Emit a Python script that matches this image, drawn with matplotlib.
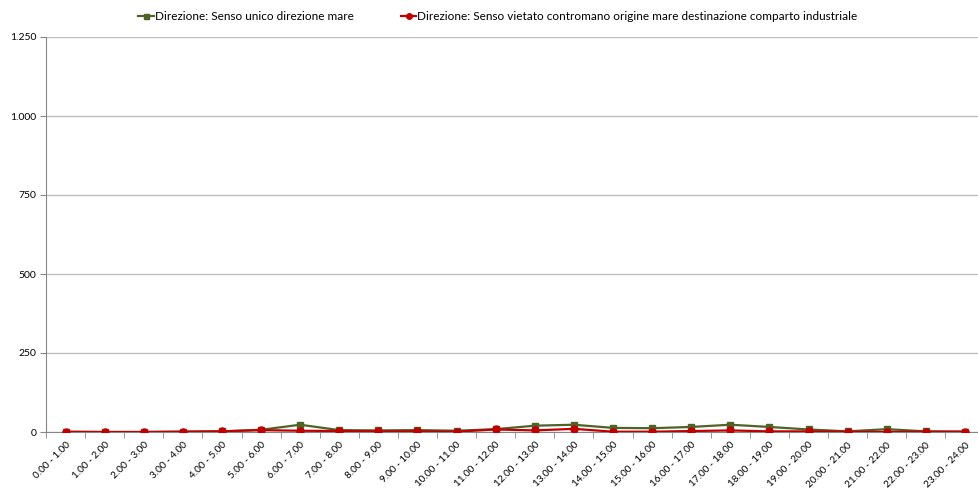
import matplotlib
matplotlib.use('Agg')
import matplotlib.pyplot as plt
from matplotlib.ticker import FuncFormatter, FixedLocator

plt.rcParams['font.family'] = ['Lato', 'DejaVu Sans']

# data
fasce = ['%d.00 - %d.00' % (h, h + 1) for h in range(24)]
senso_unico = [0, 0, 0, 1, 2, 7, 23, 6, 5, 6, 4, 9, 20, 23, 13, 12, 16, 23, 16, 8, 2, 9, 2, 1]
senso_vietato = [1, 0, 0, 1, 2, 6, 4, 3, 2, 2, 1, 8, 5, 10, 1, 1, 3, 5, 2, 2, 1, 0, 1, 1]
serie_labels = ['Direzione: Senso unico direzione mare',
                'Direzione: Senso vietato contromano origine mare destinazione comparto industriale']
y_ticks = [0, 250, 500, 750, 1000, 1250]

W, H = 979, 491
fig = plt.figure(figsize=(W / 100, H / 100), dpi=100)
ax = fig.add_axes([46 / W, 1 - 432 / H, (984.5 - 46) / W, (432 - 37) / H])

x = range(len(fasce))
ax.plot(x, senso_unico, color='#4F6228', lw=1.6, marker='s', ms=4.5,
        label=serie_labels[0], zorder=3)
ax.plot(x, senso_vietato, color='#C00000', lw=1.6, marker='o', ms=5,
        label=serie_labels[1], zorder=4)

ax.set_xlim(-0.5, len(fasce) - 0.5)
ax.set_ylim(0, 1250)
ax.set_yticks(y_ticks)
ax.yaxis.set_major_formatter(FuncFormatter(lambda v, p: '{:,.0f}'.format(v).replace(',', '.')))
ax.grid(axis='y', color='#BFBFBF', lw=1)
ax.set_axisbelow(True)

ax.set_xticks(list(x))
ax.set_xticklabels(fasce, rotation=45, ha='right', rotation_mode='anchor', fontsize=7.2)
ax.tick_params(axis='x', length=0, pad=6)
ax.xaxis.set_minor_locator(FixedLocator([i - 0.5 for i in range(len(fasce) + 1)]))
ax.tick_params(axis='x', which='minor', length=4, color='#868686')
ax.tick_params(axis='y', length=4, color='#868686', labelsize=7.5, pad=3)

for s in ['top', 'right']:
    ax.spines[s].set_visible(False)
for s in ['left', 'bottom']:
    ax.spines[s].set_color('#868686')

fig.legend(loc='center', bbox_to_anchor=(498 / W, 1 - 17 / H), ncol=2, frameon=False,
           fontsize=8.5, handlelength=1.3, handletextpad=0.1, columnspacing=4.0,
           markerscale=0.8)

fig.savefig('out.png', dpi=100)
